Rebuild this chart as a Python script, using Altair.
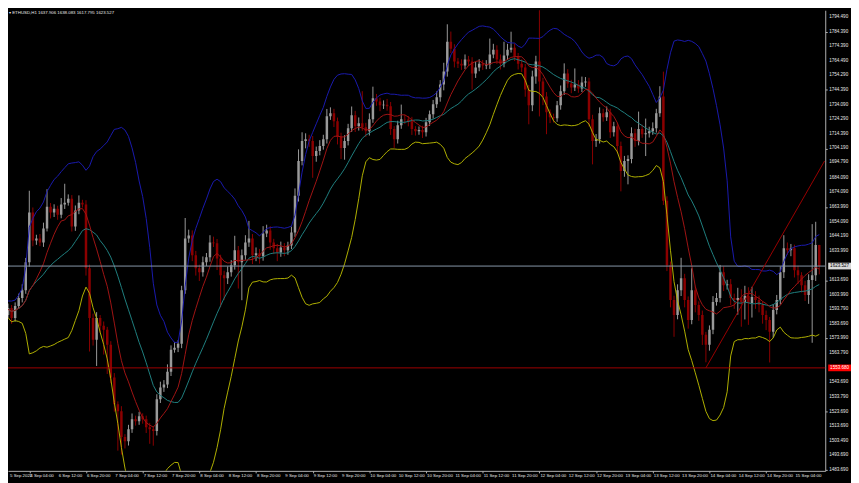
import altair as alt
import pandas as pd
import numpy as np

# ---------------- data ----------------
first_open = 1587.9
close = [
    1596.8, 1590.0, 1594.8, 1587.9, 1596.1, 1601.6, 1607.0, 1626.1, 1660.2, 1641.1,
    1642.5, 1639.7, 1649.3, 1664.3, 1660.2, 1662.9, 1658.8, 1665.7, 1667.0, 1669.7,
    1650.7, 1661.6, 1667.0, 1665.7, 1622.0, 1587.9, 1573.0, 1587.9, 1582.5, 1579.8,
    1569.5, 1547.1, 1528.7, 1523.9, 1506.2, 1503.4, 1511.6, 1518.4, 1517.1, 1520.5,
    1518.4, 1513.0, 1511.6, 1510.3, 1532.1, 1540.2, 1542.3, 1551.1, 1566.1, 1567.5,
    1570.2, 1607.0, 1642.5, 1644.5, 1630.9, 1622.0, 1619.3, 1626.1, 1629.5, 1639.7,
    1639.1, 1628.8, 1617.3, 1615.2, 1619.3, 1624.1, 1634.3, 1626.1, 1630.9, 1639.7,
    1642.5, 1630.9, 1632.3, 1630.2, 1645.9, 1647.9, 1639.7, 1635.7, 1632.9, 1636.3,
    1634.3, 1637.7, 1646.6, 1671.8, 1695.6, 1709.3, 1710.6, 1709.3, 1699.1, 1702.5,
    1705.9, 1710.6, 1726.3, 1728.4, 1722.9, 1712.0, 1704.5, 1709.3, 1718.1, 1727.0,
    1719.5, 1721.5, 1718.8, 1716.1, 1724.3, 1738.6, 1736.5, 1733.8, 1734.2, 1733.1,
    1717.5, 1710.6, 1720.2, 1724.3, 1724.0, 1722.9, 1717.5, 1716.1, 1716.8, 1715.4,
    1722.2, 1727.7, 1734.5, 1739.3, 1748.1, 1757.0, 1777.4, 1772.7, 1763.8, 1762.4,
    1761.1, 1765.2, 1763.8, 1755.6, 1759.7, 1762.4, 1761.1, 1761.8, 1768.6, 1772.0,
    1765.2, 1762.4, 1767.9, 1772.0, 1773.3, 1767.2, 1762.4, 1759.7, 1744.7, 1733.8,
    1753.6, 1763.8, 1750.2, 1739.9, 1729.0, 1725.6, 1725.0, 1733.8, 1743.4, 1755.6,
    1748.8, 1746.1, 1748.1, 1745.4, 1749.5, 1750.2, 1724.3, 1709.3, 1710.6, 1728.4,
    1725.6, 1729.0, 1715.4, 1719.5, 1705.9, 1688.8, 1695.6, 1697.0, 1714.7, 1709.3,
    1717.5, 1714.0, 1714.7, 1716.1, 1718.1, 1728.4, 1739.9, 1668.4, 1624.1, 1600.2,
    1590.0, 1607.0, 1615.2, 1600.2, 1586.6, 1607.0, 1596.8, 1590.0, 1576.4, 1569.5,
    1579.8, 1598.9, 1601.6, 1619.3, 1610.4, 1611.1, 1601.6, 1600.2, 1601.6, 1598.9,
    1603.0, 1598.2, 1602.3, 1600.2, 1596.8, 1590.0, 1586.6, 1578.4, 1593.4, 1600.2,
    1619.3, 1635.7, 1634.3, 1635.7, 1620.7, 1617.3, 1610.4, 1603.6, 1613.9, 1617.3,
    1637.906, 1623.527,
]
wick_up = [
    2.0, 1.5, 3.0, 2.0, 2.5, 3.0, 4.0, 3.0, 15.0, 3.5,
    2.5, 3.0, 4.0, 12.0, 2.5, 3.0, 2.0, 4.5, 13.0, 3.0,
    2.5, 3.5, 5.0, 2.0, 3.0, 2.5, 3.0, 4.0, 2.0, 3.0,
    2.0, 2.5, 3.0, 2.0, 3.5, 2.0, 3.0, 4.0, 2.5, 3.0,
    2.0, 2.5, 3.0, 2.0, 3.5, 4.0, 3.0, 5.0, 3.0, 4.0,
    2.5, 3.0, 14.0, 4.0, 3.5, 3.0, 2.5, 4.0, 3.0, 5.0,
    4.0, 3.0, 2.5, 3.0, 4.0, 3.5, 10.0, 3.0, 4.0, 5.0,
    12.0, 3.0, 4.0, 3.0, 5.0, 4.0, 3.0, 2.5, 3.0, 4.0,
    3.0, 2.5, 4.0, 5.0, 8.0, 6.0, 4.0, 3.0, 3.5, 3.0,
    4.0, 3.0, 5.0, 4.0, 3.0, 2.5, 3.0, 4.0, 3.0, 6.0,
    3.0, 4.0, 22.0, 3.0, 4.0, 8.0, 3.0, 2.5, 3.0, 4.0,
    3.0, 2.0, 3.0, 10.0, 3.0, 2.5, 3.0, 2.0, 2.5, 3.0,
    3.0, 2.5, 3.0, 4.0, 3.0, 6.0, 12.0, 7.0, 3.0, 2.5,
    3.0, 3.5, 2.5, 3.0, 4.0, 3.0, 2.5, 3.0, 11.0, 4.0,
    3.0, 3.5, 9.5, 4.0, 11.0, 3.0, 2.5, 3.0, 2.5, 3.0,
    4.0, 4.0, 37.0, 2.5, 3.0, 2.0, 2.5, 3.0, 4.0, 7.0,
    3.0, 2.5, 11.0, 3.0, 4.0, 3.0, 2.5, 3.0, 3.5, 4.0,
    3.0, 4.0, 2.5, 3.0, 2.5, 3.0, 3.5, 2.5, 4.0, 3.0,
    12.0, 3.0, 10.0, 3.0, 4.0, 3.0, 7.0, 17.0, 3.0, 2.5,
    3.0, 4.0, 14.0, 3.0, 2.5, 15.0, 3.0, 2.5, 3.0, 2.0,
    3.0, 4.0, 3.5, 5.0, 4.0, 3.0, 3.5, 3.0, 7.0, 6.0,
    7.0, 6.0, 7.0, 4.0, 3.0, 2.5, 3.0, 2.0, 4.0, 3.5,
    4.0, 9.0, 4.0, 3.0, 2.5, 3.0, 2.0, 3.0, 4.0, 35.0,
    16.0, 0.18,
]
wick_dn = [
    2.5, 3.0, 2.0, 4.0, 2.5, 2.0, 3.0, 2.5, 3.0, 4.0,
    3.0, 2.5, 3.0, 2.0, 4.0, 3.0, 3.5, 2.5, 3.0, 2.0,
    3.5, 3.0, 2.5, 2.0, 5.0, 23.0, 4.0, 18.0, 5.0, 17.0,
    20.0, 4.0, 5.0, 27.0, 12.0, 5.0, 3.0, 2.5, 3.0, 2.5,
    3.0, 4.0, 10.0, 10.0, 3.0, 2.5, 3.0, 2.5, 3.0, 2.0,
    3.0, 3.0, 2.5, 3.0, 4.0, 5.0, 6.0, 3.0, 2.5, 3.0,
    2.5, 8.0, 22.0, 15.0, 4.0, 3.0, 3.0, 18.0, 26.0, 3.0,
    3.0, 6.0, 4.0, 5.0, 3.0, 2.5, 5.0, 4.0, 6.0, 3.0,
    4.0, 3.0, 2.5, 3.0, 4.0, 3.0, 5.0, 4.0, 15.0, 4.0,
    3.0, 2.5, 3.0, 2.5, 4.0, 5.0, 7.5, 8.0, 3.0, 2.5,
    4.0, 3.0, 2.5, 4.0, 3.0, 2.5, 3.0, 4.0, 2.5, 3.0,
    4.0, 6.0, 3.0, 2.5, 3.0, 3.5, 4.0, 3.0, 2.5, 4.0,
    3.0, 2.5, 3.0, 2.5, 3.0, 4.0, 3.5, 3.0, 4.0, 3.0,
    3.0, 2.5, 3.0, 11.0, 3.0, 2.5, 3.0, 2.5, 3.0, 2.5,
    3.0, 4.0, 2.5, 3.0, 2.0, 3.0, 4.0, 3.0, 5.0, 13.0,
    4.0, 5.0, 24.0, 6.0, 15.0, 4.0, 3.0, 2.5, 3.0, 2.5,
    3.0, 4.0, 2.5, 3.0, 2.5, 3.0, 5.0, 16.0, 4.0, 3.0,
    3.0, 2.5, 4.0, 3.0, 5.0, 14.0, 4.0, 16.0, 3.0, 4.0,
    3.0, 2.5, 15.0, 3.0, 2.5, 3.0, 2.5, 3.0, 4.0, 5.0,
    15.0, 3.0, 4.0, 5.0, 6.0, 3.0, 5.0, 4.0, 7.0, 12.0,
    4.0, 3.0, 2.5, 3.0, 4.0, 3.0, 5.0, 6.0, 10.0, 17.0,
    12.0, 15.0, 10.0, 6.0, 5.0, 6.0, 7.0, 21.0, 4.0, 3.0,
    3.0, 4.0, 3.0, 4.0, 5.0, 6.0, 5.0, 4.0, 6.0, 43.0,
    4.0, 5.7,
]

tick_bars = list(range(0, 225, 8))
tick_labels = [
    "5 Sep 2022", "6 Sep 04:00", "6 Sep 12:00", "6 Sep 20:00", "7 Sep 04:00",
    "7 Sep 12:00", "7 Sep 20:00", "8 Sep 04:00", "8 Sep 12:00", "8 Sep 20:00",
    "9 Sep 04:00", "9 Sep 12:00", "9 Sep 20:00", "10 Sep 04:00", "10 Sep 12:00",
    "10 Sep 20:00", "11 Sep 04:00", "11 Sep 12:00", "11 Sep 20:00", "12 Sep 04:00",
    "12 Sep 12:00", "12 Sep 20:00", "13 Sep 04:00", "13 Sep 12:00", "13 Sep 20:00",
    "14 Sep 04:00", "14 Sep 12:00", "14 Sep 20:00", "15 Sep 04:00",
]
price_ticks = [
    1794.490, 1784.390, 1774.390, 1764.490, 1754.290, 1744.390, 1734.090, 1724.290,
    1714.390, 1704.190, 1694.790, 1684.090, 1674.090, 1663.990, 1654.090, 1644.190,
    1633.990, 1613.690, 1603.990, 1593.790, 1583.690, 1573.990, 1563.790, 1543.690,
    1533.790, 1523.690, 1513.690, 1503.490, 1493.690, 1483.690,
]
bid_price = 1623.527
level_price = 1553.680
trend_bars = [199, 232.5]
trend_prices = [1553.68, 1695.6]
title_text = "\u25be ETHUSD,H1  1637.906 1638.083 1617.795 1623.527"

# ---------------- tables ----------------
opens = [first_open] + close[:-1]
df = pd.DataFrame({"bar": np.arange(len(close)), "open": opens, "close": close})
df["high"] = df[["open", "close"]].max(axis=1) + np.array(wick_up)
df["low"] = df[["open", "close"]].min(axis=1) - np.array(wick_dn)
df["dir"] = np.where(df["close"] >= df["open"], "up", "down")

X_MIN = 1.985
xs = alt.Scale(domain=[X_MIN, 232.69], nice=False, zero=False)
ys = alt.Scale(domain=[1483.03, 1799.04], nice=False, zero=False)
FONT = "Liberation Sans"
AX = "#b0b0b0"
TXT = "#e8e8e8"

X = alt.X("bar:Q", scale=xs,
          axis=alt.Axis(values=tick_bars, labels=False, ticks=True, tickSize=2,
                        domainColor=AX, tickColor=AX, grid=False, title=None))
yaxis = alt.Axis(orient="right", values=price_ticks, labels=False, tickColor=AX, tickSize=2,
                 domainColor=AX, grid=False, title=None)

base = alt.Chart(df)
wicks = base.mark_rule(strokeWidth=1, clip=True).encode(
    x=X,
    y=alt.Y("low:Q", scale=ys, axis=yaxis),
    y2="high:Q",
    color=alt.Color("dir:N", scale=alt.Scale(domain=["up", "down"], range=["#9a9a9a", "#8b0000"]), legend=None),
)
bodies = base.mark_rule(strokeWidth=2.5, clip=True).encode(
    x="bar:Q",
    y="open:Q",
    y2="close:Q",
    color=alt.Color("dir:N", scale=alt.Scale(domain=["up", "down"], range=["#ffffff", "#ff0000"]), legend=None),
)

ind = base.transform_window(
    ma10="mean(close)", frame=[-9, 0], sort=[alt.SortField("bar")]
).transform_window(
    mid="mean(close)", sd="stdevp(close)", frame=[-19, 0], sort=[alt.SortField("bar")]
).transform_calculate(
    upper="datum.mid + 2*datum.sd", lower="datum.mid - 2*datum.sd"
)
l_upper = ind.mark_line(color="#1a1aae", strokeWidth=1, clip=True).encode(x="bar:Q", y="upper:Q")
l_lower = ind.mark_line(color="#b0b000", strokeWidth=1, clip=True).encode(x="bar:Q", y="lower:Q")
l_mid = ind.mark_line(color="#1f8080", strokeWidth=1, clip=True).encode(x="bar:Q", y="mid:Q")
l_ma = ind.mark_line(color="#a01414", strokeWidth=1, clip=True).encode(x="bar:Q", y="ma10:Q")

bid_df = pd.DataFrame({"p": [bid_price]})
lvl_df = pd.DataFrame({"p": [level_price]})
bid_line = alt.Chart(bid_df).mark_rule(color="#8797a8", strokeWidth=1).encode(y="p:Q")
lvl_line = alt.Chart(lvl_df).mark_rule(color="#a00000", strokeWidth=1).encode(y="p:Q")

trend_df = pd.DataFrame({"bar": trend_bars, "p": trend_prices})
trend = alt.Chart(trend_df).mark_line(color="#9a0000", strokeWidth=1, clip=True).encode(x="bar:Q", y="p:Q")

# price-axis labels drawn as text
pt_df = pd.DataFrame({"p": price_ticks})
ylabels = alt.Chart(pt_df).transform_calculate(lab="format(datum.p, '.3f')").mark_text(
    color=TXT, fontSize=4.6, font=FONT, align="left", baseline="middle").encode(
    x=alt.value(829), y="p:Q", text="lab:N")

def price_box(dfp, fill, txt):
    b = alt.Chart(dfp).transform_calculate(
        top="datum.p + 2.3", bot="datum.p - 2.3", lab="format(datum.p, '.3f')"
    )
    r = b.mark_rect(color=fill).encode(x=alt.value(828), x2=alt.value(851), y="top:Q", y2="bot:Q")
    t = b.mark_text(color=txt, fontSize=4.6, font=FONT, align="center", baseline="middle").encode(
        x=alt.value(839.5), y="p:Q", text="lab:N")
    return r + t

bid_box = price_box(bid_df, "#d8d8d8", "#000000")
lvl_box = price_box(lvl_df, "#ff0000", "#ffffff")

lab_df = pd.DataFrame({"bar": tick_bars, "label": tick_labels})
xlabels = alt.Chart(lab_df).transform_calculate(
    xpos="max(datum.bar, %f)" % (X_MIN + 0.3)
).mark_text(color=TXT, fontSize=4.4, font=FONT, align="left", baseline="middle", dx=1).encode(
    x="xpos:Q", y=alt.value(470), text="label:N")

title = alt.Chart(pd.DataFrame({"t": [title_text]})).mark_text(
    color=TXT, fontSize=4.4, font=FONT, align="left", baseline="middle").encode(
    x=alt.value(1), y=alt.value(3), text="t:N")

chart = alt.layer(
    wicks, bodies, l_upper, l_lower, l_mid, l_ma, bid_line, lvl_line, trend,
    ylabels, bid_box, lvl_box, xlabels, title
).properties(
    width=825, height=465,
    padding={"left": 0, "top": 0, "right": 26, "bottom": 10},
    autosize=alt.AutoSizeParams(type="none"),
    background="#000000",
).configure_view(stroke=None)

chart.save("out.html", embed_options={"renderer": "svg", "actions": False})
